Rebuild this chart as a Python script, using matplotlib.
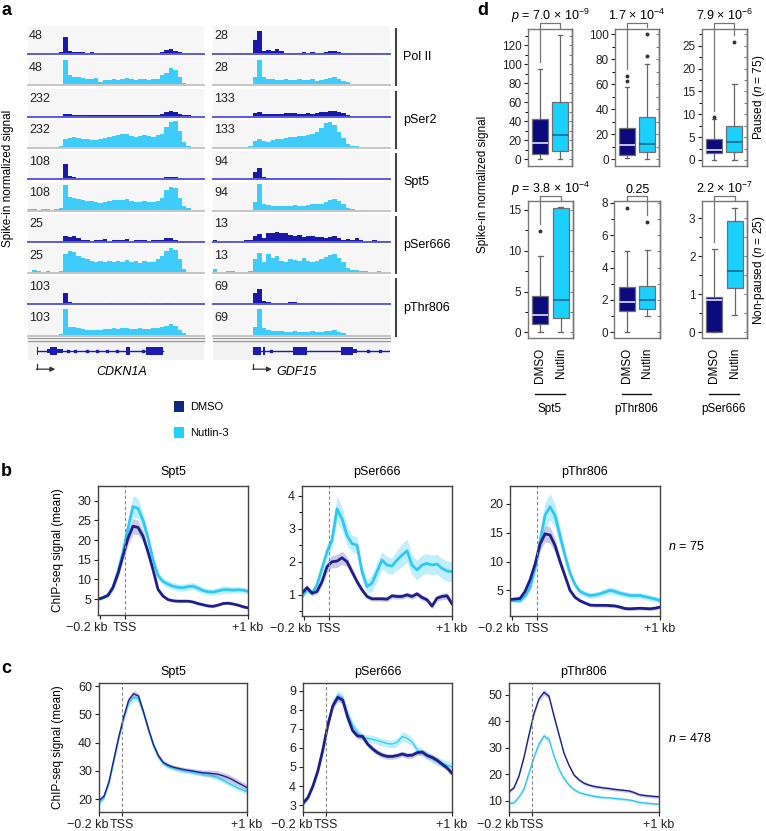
import numpy as np
import matplotlib
matplotlib.use('Agg')
import matplotlib.pyplot as plt
from matplotlib.lines import Line2D
from matplotlib.patches import Rectangle
from matplotlib.ticker import MultipleLocator

plt.rcParams['font.family'] = ['Liberation Sans', 'DejaVu Sans']
plt.rcParams['mathtext.fontset'] = 'custom'
plt.rcParams['mathtext.rm'] = 'Liberation Sans'
plt.rcParams['mathtext.it'] = 'Liberation Sans:italic'
plt.rcParams['font.size'] = 9

# -----------------------------
# Panel a: genome browser tracks (signal as % of track range, 40 bins)
# -----------------------------
track_names = ['Pol II', 'pSer2', 'Spt5', 'pSer666', 'pThr806']
cdkn1a_scale = [48, 232, 108, 25, 103]
gdf15_scale = [28, 133, 94, 13, 69]

cdkn1a_dmso = [
    [0, 0, 3, 0, 0, 0, 0, 8, 62, 9, 8, 6, 7, 4, 6, 3, 4, 3, 5, 3, 3, 4, 3, 5, 3, 3, 4, 3, 3, 5, 8, 13, 17, 12, 6, 3, 0, 3, 0, 0],
    [0, 0, 0, 0, 0, 0, 0, 3, 11, 8, 7, 6, 6, 5, 5, 5, 4, 5, 5, 6, 5, 4, 5, 6, 5, 5, 6, 5, 6, 6, 8, 15, 19, 17, 8, 5, 4, 0, 0, 0],
    [0, 0, 0, 0, 2, 0, 0, 5, 56, 12, 8, 5, 4, 4, 3, 4, 3, 4, 3, 4, 3, 3, 4, 3, 4, 3, 3, 4, 3, 3, 4, 7, 8, 8, 4, 2, 0, 0, 0, 0],
    [0, 0, 0, 0, 0, 0, 0, 3, 22, 18, 20, 15, 5, 6, 4, 8, 5, 10, 4, 6, 8, 5, 9, 4, 7, 5, 8, 4, 6, 5, 8, 12, 13, 8, 4, 2, 0, 0, 0, 0],
    [0, 0, 0, 0, 0, 0, 0, 3, 40, 8, 5, 4, 3, 3, 3, 3, 3, 3, 4, 3, 3, 3, 3, 3, 3, 3, 4, 3, 3, 3, 3, 4, 4, 3, 3, 2, 0, 0, 0, 0],
]
cdkn1a_nut = [
    [0, 4, 3, 0, 0, 0, 0, 5, 90, 35, 30, 28, 26, 24, 22, 25, 12, 18, 20, 22, 20, 24, 25, 22, 20, 22, 24, 20, 23, 22, 35, 45, 62, 55, 30, 8, 3, 2, 3, 0],
    [0, 0, 3, 0, 0, 0, 0, 5, 30, 35, 38, 36, 33, 30, 28, 27, 33, 36, 40, 42, 45, 48, 50, 42, 40, 44, 46, 42, 38, 45, 50, 75, 92, 95, 60, 20, 8, 3, 0, 0],
    [4, 5, 3, 4, 5, 3, 5, 8, 92, 48, 45, 40, 38, 35, 33, 30, 28, 30, 33, 36, 38, 36, 40, 33, 30, 32, 34, 30, 32, 35, 45, 72, 85, 80, 45, 15, 8, 3, 0, 0],
    [3, 10, 6, 3, 8, 5, 3, 8, 70, 78, 75, 60, 55, 50, 42, 38, 45, 40, 42, 38, 45, 40, 46, 38, 42, 36, 44, 40, 38, 50, 60, 80, 88, 82, 50, 15, 5, 3, 3, 0],
    [3, 3, 2, 0, 0, 0, 0, 5, 95, 32, 30, 28, 25, 22, 20, 20, 22, 24, 25, 26, 25, 27, 26, 24, 25, 26, 25, 24, 27, 26, 30, 36, 40, 35, 20, 8, 3, 0, 0, 0],
]
gdf15_dmso = [
    [0, 2, 0, 0, 3, 2, 3, 4, 5, 50, 81, 10, 15, 12, 17, 12, 5, 4, 5, 4, 6, 5, 6, 5, 4, 6, 9, 12, 6, 4, 5, 3, 4, 2, 3, 3, 2, 3, 0, 3],
    [0, 0, 0, 0, 0, 0, 0, 0, 3, 12, 15, 10, 8, 8, 9, 10, 12, 14, 12, 10, 11, 12, 10, 14, 15, 16, 20, 21, 18, 12, 6, 3, 0, 0, 0, 0, 0, 0, 0, 0],
    [0, 0, 0, 0, 0, 0, 0, 0, 3, 25, 40, 8, 5, 3, 3, 3, 3, 4, 3, 3, 3, 5, 4, 4, 6, 4, 3, 4, 3, 2, 0, 0, 0, 0, 0, 0, 0, 0, 0, 0],
    [5, 3, 0, 3, 0, 0, 0, 5, 6, 20, 28, 12, 30, 32, 34, 30, 32, 25, 22, 24, 18, 22, 20, 18, 16, 14, 18, 20, 12, 8, 10, 8, 12, 5, 4, 3, 6, 2, 3, 4],
    [0, 0, 0, 0, 0, 0, 0, 2, 3, 40, 55, 12, 8, 6, 5, 5, 6, 10, 8, 5, 4, 5, 4, 5, 4, 4, 4, 5, 3, 2, 0, 0, 0, 0, 0, 0, 0, 0, 0, 0],
]
gdf15_nut = [
    [3, 3, 0, 4, 3, 4, 5, 3, 4, 30, 91, 28, 24, 22, 20, 18, 22, 20, 18, 22, 20, 18, 22, 16, 20, 22, 25, 30, 22, 15, 10, 5, 4, 2, 3, 4, 0, 3, 0, 4],
    [0, 0, 2, 2, 3, 3, 3, 3, 5, 25, 32, 25, 20, 28, 30, 32, 34, 38, 40, 42, 44, 46, 50, 55, 70, 88, 92, 80, 55, 35, 15, 8, 6, 0, 0, 0, 0, 0, 0, 0],
    [0, 0, 0, 0, 0, 0, 0, 3, 3, 30, 94, 25, 18, 16, 17, 16, 16, 17, 18, 16, 15, 18, 22, 25, 22, 30, 38, 40, 35, 25, 10, 4, 3, 2, 3, 0, 0, 0, 0, 0],
    [14, 5, 3, 6, 8, 3, 2, 5, 8, 50, 72, 40, 68, 55, 60, 45, 40, 50, 48, 42, 55, 45, 40, 45, 50, 58, 65, 68, 55, 40, 20, 10, 12, 6, 8, 5, 3, 6, 3, 2],
    [0, 2, 0, 2, 0, 0, 2, 3, 4, 30, 94, 28, 20, 18, 16, 17, 15, 14, 16, 15, 14, 15, 16, 15, 14, 16, 18, 20, 15, 8, 4, 3, 2, 0, 0, 0, 0, 0, 0, 0],
]

# gene models, in track bins
cdkn1a_body = [2.0, 30.75]
cdkn1a_exons = [(2.0, 2.3), (5.0, 6.7), (22.3, 23.2), (26.75, 30.75)]
cdkn1a_utrs = [(4.25, 5.0), (6.7, 8.0)]
cdkn1a_marks = [9.2, 10.7, 13.5, 15.6, 17.9, 20.2, 26.1]
gdf15_body = [9.1, 40.0]
gdf15_exons = [(9.1, 10.8), (11.4, 11.65), (18.0, 21.3), (28.9, 31.7)]
gdf15_utrs = [(31.7, 32.5)]
gdf15_marks = [13.0, 35.1, 37.7]

# -----------------------------
# Panels b and c: metagene profiles
# -----------------------------
bins_b = np.linspace(-0.22, 1.0, 31)
bins_c = np.linspace(-0.18, 1.0, 31)

b_spt5_dmso = [5.0, 5.4, 6.0, 8.0, 11.5, 16.0, 20.5, 23.5, 23.2, 21.0, 17.0, 12.5, 7.5, 5.8, 4.9, 4.6, 4.5, 4.5, 4.5, 4.3, 3.9, 3.6, 3.3, 3.2, 3.5, 3.9, 4.0, 3.8, 3.5, 3.1, 2.8]
b_spt5_nut = [5.0, 5.4, 6.0, 8.0, 12.0, 17.0, 23.0, 28.5, 28.0, 25.0, 20.5, 15.0, 11.0, 9.5, 8.8, 8.3, 8.0, 7.9, 8.2, 8.3, 7.8, 7.2, 6.9, 6.8, 7.1, 7.4, 7.4, 7.3, 7.4, 7.3, 7.0]
b_spt5_dmso_se = [0.3, 0.3, 0.4, 0.7, 1.0, 1.3, 1.7, 2.0, 1.8, 1.5, 1.0, 0.5, 0.4, 0.3, 0.3, 0.3, 0.3, 0.3, 0.3, 0.3, 0.3, 0.3, 0.3, 0.3, 0.3, 0.3, 0.3, 0.3, 0.3, 0.3, 0.3]
b_spt5_nut_se = [0.3, 0.3, 0.4, 0.8, 1.2, 1.6, 2.2, 2.8, 2.5, 2.0, 1.5, 1.0, 0.9, 0.9, 0.9, 0.9, 0.9, 0.9, 0.9, 0.9, 0.9, 0.8, 0.8, 0.8, 0.9, 1.0, 0.9, 0.8, 0.8, 0.7, 0.7]

b_pser_dmso = [1.05, 1.22, 1.05, 1.1, 1.4, 1.85, 2.0, 2.02, 2.12, 2.0, 1.7, 1.4, 1.15, 0.95, 0.88, 0.88, 0.88, 0.87, 0.97, 0.95, 0.95, 1.0, 0.95, 1.03, 0.92, 0.85, 0.66, 0.9, 0.95, 0.97, 0.73]
b_pser_nut = [0.95, 1.15, 1.05, 1.3, 1.8, 2.3, 2.65, 3.6, 3.3, 2.8, 2.55, 2.5, 1.7, 1.25, 1.35, 1.7, 2.05, 1.9, 1.87, 2.05, 2.2, 2.33, 1.9, 1.75, 1.9, 1.95, 1.9, 1.93, 1.8, 1.72, 1.7]
b_pser_dmso_se = [0.07, 0.07, 0.07, 0.08, 0.12, 0.18, 0.18, 0.2, 0.2, 0.15, 0.12, 0.1, 0.08, 0.07, 0.07, 0.07, 0.07, 0.07, 0.08, 0.08, 0.08, 0.08, 0.08, 0.08, 0.08, 0.08, 0.08, 0.08, 0.1, 0.1, 0.1]
b_pser_nut_se = [0.08, 0.08, 0.08, 0.12, 0.15, 0.2, 0.25, 0.4, 0.35, 0.3, 0.25, 0.25, 0.2, 0.2, 0.25, 0.3, 0.25, 0.25, 0.25, 0.3, 0.35, 0.35, 0.3, 0.3, 0.3, 0.3, 0.3, 0.3, 0.3, 0.3, 0.3]

b_pthr_dmso = [3.4, 3.5, 3.6, 4.8, 6.8, 9.5, 13.0, 14.8, 14.6, 12.8, 10.0, 7.5, 5.0, 3.8, 3.2, 2.8, 2.45, 2.4, 2.4, 2.4, 2.35, 2.3, 2.1, 1.85, 1.8, 1.85, 1.9, 1.85, 1.8, 1.9, 2.1]
b_pthr_nut = [3.25, 3.2, 3.2, 4.0, 5.5, 8.8, 13.5, 18.0, 19.5, 18.0, 14.5, 11.0, 8.0, 6.0, 4.8, 4.4, 4.1, 4.2, 4.4, 4.7, 5.0, 4.8, 4.5, 4.3, 4.1, 4.1, 4.1, 3.9, 3.7, 3.5, 3.25]
b_pthr_dmso_se = [0.3, 0.3, 0.3, 0.4, 0.6, 0.9, 1.2, 1.4, 1.4, 1.2, 0.9, 0.6, 0.4, 0.3, 0.3, 0.3, 0.3, 0.3, 0.3, 0.3, 0.3, 0.3, 0.3, 0.3, 0.3, 0.3, 0.3, 0.3, 0.3, 0.3, 0.3]
b_pthr_nut_se = [0.3, 0.3, 0.3, 0.4, 0.6, 1.0, 1.5, 2.3, 2.3, 2.0, 1.5, 1.0, 0.7, 0.5, 0.5, 0.5, 0.5, 0.5, 0.5, 0.6, 0.6, 0.6, 0.5, 0.5, 0.5, 0.5, 0.5, 0.5, 0.5, 0.5, 0.5]

c_spt5_dmso = [19.5, 21.0, 26.0, 34.0, 42.0, 49.0, 55.0, 57.3, 56.5, 51.0, 45.0, 39.5, 35.5, 33.0, 32.0, 31.3, 30.9, 30.5, 30.2, 29.9, 29.6, 29.3, 29.2, 29.0, 28.8, 28.3, 27.7, 26.9, 25.9, 25.0, 24.0]
c_spt5_nut = [18.5, 20.5, 25.5, 33.5, 41.5, 48.5, 54.0, 56.0, 55.5, 50.5, 44.5, 39.0, 35.0, 32.6, 31.5, 31.0, 30.5, 30.1, 29.8, 29.5, 29.2, 28.9, 28.6, 28.2, 27.6, 26.8, 25.8, 25.0, 24.0, 23.3, 22.6]
c_spt5_dmso_se = [0.8, 0.8, 0.8, 0.9, 0.9, 1.0, 1.0, 1.1, 1.1, 1.0, 0.9, 0.8, 0.8, 0.8, 0.8, 0.8, 0.8, 0.8, 0.8, 0.9, 0.9, 1.0, 1.1, 1.2, 1.2, 1.2, 1.2, 1.2, 1.2, 1.2, 1.2]
c_spt5_nut_se = [0.8, 0.8, 0.8, 0.9, 1.0, 1.1, 1.2, 1.3, 1.3, 1.1, 1.0, 0.9, 0.8, 0.8, 0.8, 0.8, 0.8, 0.8, 0.8, 0.9, 0.9, 0.9, 0.9, 0.9, 0.9, 0.9, 0.9, 0.9, 0.9, 0.9, 0.9]

c_pser_dmso = [3.1, 3.4, 4.0, 4.8, 5.9, 7.2, 8.2, 8.65, 8.5, 7.6, 6.9, 6.62, 6.6, 6.2, 5.95, 5.75, 5.62, 5.55, 5.55, 5.6, 5.68, 5.6, 5.62, 5.75, 5.78, 5.6, 5.5, 5.35, 5.15, 4.95, 4.67]
c_pser_nut = [3.1, 3.4, 4.0, 4.8, 5.9, 7.2, 8.3, 8.75, 8.6, 7.8, 7.2, 6.8, 6.55, 6.5, 6.45, 6.38, 6.3, 6.22, 6.2, 6.3, 6.6, 6.5, 6.3, 5.9, 5.75, 5.6, 5.45, 5.3, 5.2, 5.1, 5.0]
c_pser_dmso_se = [0.12, 0.12, 0.12, 0.13, 0.15, 0.18, 0.2, 0.22, 0.2, 0.18, 0.16, 0.16, 0.15, 0.15, 0.15, 0.15, 0.15, 0.15, 0.15, 0.15, 0.15, 0.15, 0.15, 0.15, 0.15, 0.15, 0.15, 0.15, 0.15, 0.15, 0.15]
c_pser_nut_se = [0.12, 0.12, 0.12, 0.13, 0.15, 0.2, 0.25, 0.28, 0.25, 0.22, 0.2, 0.2, 0.2, 0.2, 0.2, 0.2, 0.2, 0.2, 0.2, 0.22, 0.25, 0.25, 0.22, 0.22, 0.22, 0.22, 0.22, 0.22, 0.22, 0.22, 0.22]

c_pthr_dmso = [13.5, 15.0, 19.5, 26.5, 35.0, 43.0, 48.5, 51.0, 49.5, 42.0, 35.0, 28.0, 23.5, 19.8, 18.0, 16.7, 16.0, 15.5, 15.2, 14.9, 14.7, 14.4, 14.2, 14.0, 13.8, 13.2, 12.4, 12.1, 11.9, 11.7, 11.6]
c_pthr_nut = [9.1, 9.3, 11.5, 14.5, 20.5, 26.5, 31.5, 34.5, 33.2, 27.0, 22.0, 18.5, 16.0, 14.3, 13.2, 12.6, 12.2, 11.8, 11.5, 11.3, 11.2, 11.0, 10.8, 10.6, 10.4, 10.0, 9.5, 9.3, 9.1, 8.9, 8.8]
c_pthr_dmso_se = [0.6, 0.6, 0.6, 0.7, 0.8, 0.9, 1.0, 1.1, 1.0, 0.9, 0.8, 0.7, 0.6, 0.6, 0.6, 0.6, 0.6, 0.6, 0.6, 0.6, 0.6, 0.6, 0.6, 0.6, 0.6, 0.6, 0.6, 0.6, 0.6, 0.6, 0.6]
c_pthr_nut_se = [0.5, 0.5, 0.5, 0.6, 0.7, 0.8, 0.9, 1.0, 1.0, 0.8, 0.7, 0.6, 0.5, 0.5, 0.5, 0.5, 0.5, 0.5, 0.5, 0.5, 0.5, 0.5, 0.5, 0.5, 0.5, 0.5, 0.5, 0.5, 0.5, 0.5, 0.5]

profile_titles = ['Spt5', 'pSer666', 'pThr806']

# -----------------------------
# Panel d: box plot summaries [whislo, q1, median, q3, whishi] and outliers
# -----------------------------
d_groups = ['Spt5', 'pThr806', 'pSer666']
paused_dmso = [[0.0, 5.3, 17.5, 42.5, 95.0], [1.1, 3.4, 11.4, 25.3, 57.6], [0.1, 1.46, 2.2, 4.5, 8.9]]
paused_nut = [[0.0, 9.0, 25.7, 60.0, 131.0], [0.0, 5.6, 12.5, 33.6, 76.0], [0.0, 1.7, 3.9, 7.5, 16.6]]
paused_dmso_out = [[], [62.6, 66.6], [9.3]]
paused_nut_out = [[], [82.9, 100.0], [25.8]]
nonpaused_dmso = [[0.0, 1.0, 2.1, 4.4, 9.35], [0.0, 1.32, 1.89, 2.78, 5.03], [0.0, 0.0, 0.85, 0.94, 2.2]]
nonpaused_nut = [[0.0, 1.8, 3.9, 15.3, 15.4], [1.0, 1.44, 2.0, 2.86, 5.09], [0.46, 1.16, 1.62, 2.94, 3.27]]
nonpaused_dmso_out = [[12.45], [7.67], []]
nonpaused_nut_out = [[], [6.8], []]
paused_p = [r'$p$ = 7.0 × 10$^{-9}$', r'1.7 × 10$^{-4}$', r'7.9 × 10$^{-6}$']
nonpaused_p = [r'$p$ = 3.8 × 10$^{-4}$', '0.25', r'2.2 × 10$^{-7}$']

# colours
DMSO_LINE = '#1f1f8c'
NUT_LINE = '#2ec8f6'
DMSO_TRACK = '#1a1aa6'
NUT_TRACK = '#40ccfa'
DMSO_BOX = '#0b0b7e'
NUT_BOX = '#1ad0fd'
GENE = '#1c1cb0'

W, H = 766, 831
fig = plt.figure(figsize=(W / 100, H / 100), dpi=100)


def px_axes(x0, y0, x1, y1):
    return fig.add_axes([x0 / W, 1 - y1 / H, (x1 - x0) / W, (y1 - y0) / H])


def px_text(x, y, s, **kw):
    return fig.text(x / W, 1 - y / H, s, **kw)


def px_line(xs, ys, **kw):
    fig.add_artist(Line2D([x / W for x in xs], [1 - y / H for y in ys], **kw))


# -----------------------------
# Panel a
# -----------------------------
columns = [(28, 204, cdkn1a_scale, cdkn1a_dmso, cdkn1a_nut),
           (213, 390, gdf15_scale, gdf15_dmso, gdf15_nut)]
for x0, x1, scales, dm, nu in columns:
    for p in range(5):
        for c, (vals, fill, base) in enumerate([(dm[p], DMSO_TRACK, '#5a5ae8'),
                                                 (nu[p], NUT_TRACK, '#c6c6c6')]):
            k = 2 * p + c
            yb = 54 + 31.3 * k
            ax = px_axes(x0, yb - 28, x1, yb)
            ax.set_facecolor('#f6f6f6')
            v = np.asarray(vals, dtype=float) * scales[p] / 100
            ax.stairs(v, np.arange(len(v) + 1), fill=True, color=fill, lw=0)
            ax.set_xlim(0, len(v))
            ax.set_ylim(0, scales[p])
            ax.axhline(0, color=base, lw=1.4, clip_on=False)
            ax.text(0.005, 0.84, str(scales[p]), transform=ax.transAxes,
                    va='top', ha='left', fontsize=9, color='#222')
            ax.set_xticks([])
            ax.set_yticks([])
            for s in ax.spines.values():
                s.set_visible(False)

for p, name in enumerate(track_names):
    ytop = 54 + 31.3 * 2 * p - 25
    ybot = 54 + 31.3 * (2 * p + 1)
    px_line([396, 396], [ytop, ybot], color='#444', lw=1.5)
    px_text(403, (ytop + ybot) / 2, name, va='center', ha='left', fontsize=9)

# gene models
genes = [(28, 204, cdkn1a_body, cdkn1a_exons, cdkn1a_utrs, cdkn1a_marks, 'CDKN1A', 122),
         (213, 390, gdf15_body, gdf15_exons, gdf15_utrs, gdf15_marks, 'GDF15', 297)]
for x0, x1, body, exons, utrs, marks, gname, gx in genes:
    for yy in (338.3, 341.3):
        px_line([x0, x1], [yy, yy], color='#9a9a9a', lw=1.0)
    ax = px_axes(x0, 342.5, x1, 360)
    ax.set_facecolor('#f3f3f3')
    ax.set_xlim(0, 40)
    ax.set_ylim(-1, 1)
    ax.plot(body, [0, 0], color=GENE, lw=1)
    for a, b in exons:
        ax.add_patch(Rectangle((a, -0.45), b - a, 0.9, color=GENE, lw=0))
    for a, b in utrs:
        ax.add_patch(Rectangle((a, -0.25), b - a, 0.5, color=GENE, lw=0))
    ax.plot(marks, [0] * len(marks), 's', ms=1.8, color=GENE)
    tss = body[0]
    ax.plot([tss, tss], [-1.45, -2.05], color='#333', lw=0.9, clip_on=False)
    ax.annotate('', xy=(tss + 4.2, -2.05), xytext=(tss - 0.1, -2.05),
                arrowprops=dict(arrowstyle='-|>', color='#333', lw=0.9, mutation_scale=7,
                                shrinkA=0, shrinkB=0), annotation_clip=False)
    ax.set_xticks([])
    ax.set_yticks([])
    for s in ax.spines.values():
        s.set_visible(False)
    px_text(gx, 372, gname, ha='center', va='center', fontsize=9, style='italic')

px_text(8, 178, 'Spike-in normalized signal', rotation=90, ha='center', va='center', fontsize=8.5)

# legend
for y0, col, lab in [(401, '#0f2a7c', 'DMSO'), (427, '#1dd2ff', 'Nutlin-3')]:
    fig.add_artist(Rectangle((174 / W, 1 - (y0 + 11) / H), 10 / W, 11 / H,
                             color=col, transform=fig.transFigure, lw=0))
    px_text(190, y0 + 5.5, lab, va='center', ha='left', fontsize=8)

# -----------------------------
# Panels b and c
# -----------------------------
b_boxes = [(98, 486, 248, 615), (302, 486, 452, 616), (510, 486, 660, 616)]
c_boxes = [(99, 683, 247, 812), (303, 683, 452, 812), (509, 683, 659, 812)]
b_sets = [(b_spt5_dmso, b_spt5_dmso_se, b_spt5_nut, b_spt5_nut_se),
          (b_pser_dmso, b_pser_dmso_se, b_pser_nut, b_pser_nut_se),
          (b_pthr_dmso, b_pthr_dmso_se, b_pthr_nut, b_pthr_nut_se)]
c_sets = [(c_spt5_dmso, c_spt5_dmso_se, c_spt5_nut, c_spt5_nut_se),
          (c_pser_dmso, c_pser_dmso_se, c_pser_nut, c_pser_nut_se),
          (c_pthr_dmso, c_pthr_dmso_se, c_pthr_nut, c_pthr_nut_se)]
b_ylims = [(1.0, 33.7), (0.36, 4.29), (0.55, 23.1)]
b_yticks = [[5, 10, 15, 20, 25, 30], [1, 2, 3, 4], [5, 10, 15, 20]]
b_minor = [None, 0.5, None]
c_ylims = [(15.4, 61.1), (2.64, 9.4), (5.85, 54.5)]
c_yticks = [[20, 30, 40, 50, 60], [3, 4, 5, 6, 7, 8, 9], [10, 20, 30, 40, 50]]
b_lw = [(2.0, 2.0)] * 3
c_lw = [(1.0, 1.0), (2.0, 0.9), (1.0, 1.0)]


def profile_panel(box, bins, series, ylim, yticks, minor, lws, left_tick, left_shift):
    ax = px_axes(*box)
    dm, dm_se, nu, nu_se = [np.asarray(s, dtype=float) for s in series]
    ax.fill_between(bins, nu - nu_se, nu + nu_se, color=NUT_LINE, alpha=0.3, lw=0)
    ax.fill_between(bins, dm - dm_se, dm + dm_se, color='#5050a8', alpha=0.3, lw=0)
    ax.plot(bins, nu, color=NUT_LINE, lw=lws[1])
    ax.plot(bins, dm, color=DMSO_LINE, lw=lws[0])
    ax.axvline(0, color='#888', ls=(0, (3, 2)), lw=0.8)
    ax.set_xlim(bins[0], 1.0)
    ax.set_ylim(*ylim)
    ax.set_yticks(yticks)
    if minor:
        ax.yaxis.set_minor_locator(MultipleLocator(minor))
    ax.set_xticks([left_tick, 0, 1.0])
    ax.set_xticklabels(['', 'TSS', '+1 kb'])
    # the "-0.2 kb" label sits left of its tick so it clears "TSS"
    ax.annotate('\u22120.2 kb', xy=(left_tick, 0), xycoords=ax.get_xaxis_transform(),
                xytext=(left_shift * 0.72, -5), textcoords='offset points',
                ha='center', va='top', fontsize=9, color='#222')
    ax.tick_params(which='major', length=3, width=0.8, labelsize=9, pad=2, colors='#222')
    ax.tick_params(which='minor', length=2, width=0.7)
    for s in ax.spines.values():
        s.set_color('#444')
        s.set_linewidth(1.0)
    return ax


for i in range(3):
    profile_panel(b_boxes[i], bins_b, b_sets[i], b_ylims[i], b_yticks[i], b_minor[i],
                  b_lw[i], -0.2, -14)
    px_text((b_boxes[i][0] + b_boxes[i][2]) / 2, 472, profile_titles[i], ha='center', va='center', fontsize=9)
    profile_panel(c_boxes[i], bins_c, c_sets[i], c_ylims[i], c_yticks[i], None,
                  c_lw[i], -0.18, -11)
    px_text((c_boxes[i][0] + c_boxes[i][2]) / 2, 672, profile_titles[i], ha='center', va='center', fontsize=9)

px_text(58, 550, 'ChIP-seq signal (mean)', rotation=90, ha='center', va='center', fontsize=8.5)
px_text(58, 747, 'ChIP-seq signal (mean)', rotation=90, ha='center', va='center', fontsize=8.5)
px_text(668, 547, r'$n$ = 75', ha='left', va='center', fontsize=9)
px_text(668, 738, r'$n$ = 478', ha='left', va='center', fontsize=9)

# -----------------------------
# Panel d
# -----------------------------
d_top = [(527.7, 29.3, 572.3, 165.7), (615, 29.3, 659.3, 165.7), (701.7, 29.3, 746.7, 165.7)]
d_bot = [(527.7, 201, 573.3, 338.3), (614.3, 201, 660, 338.3), (701.7, 201, 747.3, 338.3)]
top_ylims = [(-6.7, 137), (-5.1, 104), (-1.25, 28.6)]
top_ticks = [[0, 20, 40, 60, 80, 100, 120], [0, 20, 40, 60, 80, 100], [0, 5, 10, 15, 20, 25]]
top_minor = [10, 10, 2.5]
bot_ylims = [(-0.74, 16.1), (-0.37, 8.12), (-0.16, 3.46)]
bot_ticks = [[0, 5, 10, 15], [0, 2, 4, 6, 8], [0, 1, 2, 3]]
bot_minor = [2.5, 1, 0.5]


def box_panel(box, dm, dm_out, nu, nu_out, ylim, ticks, minor, ptext, bracket_px, ptext_px):
    ax = px_axes(*box)
    stats = []
    for q, fl in ((dm, dm_out), (nu, nu_out)):
        stats.append(dict(whislo=q[0], q1=q[1], med=q[2], q3=q[3], whishi=q[4], fliers=fl))
    art = ax.bxp(stats, positions=[1, 2], widths=0.78, capwidths=0.22, patch_artist=True,
                 boxprops=dict(edgecolor='#707070', lw=0.9),
                 whiskerprops=dict(color='#666', lw=0.9),
                 capprops=dict(color='#666', lw=0.9),
                 flierprops=dict(marker='o', ms=1.8, mfc='#333', mec='#333'))
    art['boxes'][0].set_facecolor(DMSO_BOX)
    art['boxes'][1].set_facecolor(NUT_BOX)
    art['medians'][0].set(color='#c4c4ee', lw=1.4)
    art['medians'][1].set(color='#17688a', lw=1.2)
    ax.set_xlim(0.385, 2.615)
    ax.set_ylim(*ylim)
    ax.set_yticks(ticks)
    ax.yaxis.set_minor_locator(MultipleLocator(minor))
    ax.tick_params(axis='y', which='major', length=3, width=0.8, labelsize=8.5, pad=1.5, colors='#222')
    ax.tick_params(axis='y', which='minor', length=2, width=0.7)
    sec = ax.secondary_yaxis('right')
    sec.set_yticks(ticks)
    sec.yaxis.set_minor_locator(MultipleLocator(minor))
    sec.tick_params(which='both', direction='in', labelright=False, length=2, width=0.7, colors='#777')
    for s in list(ax.spines.values()) + list(sec.spines.values()):
        s.set_color('#777')
        s.set_linewidth(1.0)
    # significance bracket
    h = box[3] - box[1]
    ytop = (box[3] - bracket_px) / h
    rng = ylim[1] - ylim[0]
    tr = ax.get_xaxis_transform()
    legs = []
    for q, fl in ((dm, dm_out), (nu, nu_out)):
        top_val = max([q[4]] + list(fl)) + 0.05 * rng
        legs.append(min((top_val - ylim[0]) / rng, ytop))
    ax.plot([1, 1, 2, 2], [legs[0], ytop, ytop, legs[1]], color='#777', lw=0.9,
            transform=tr, clip_on=False)
    ax.text(1.5, (box[3] - ptext_px) / h, ptext, transform=tr, ha='center', va='baseline', fontsize=9)
    return ax


for i in range(3):
    ax = box_panel(d_top[i], paused_dmso[i], paused_dmso_out[i], paused_nut[i], paused_nut_out[i],
                   top_ylims[i], top_ticks[i], top_minor[i], paused_p[i], 23.3, 20.5)
    ax.set_xticks([])
    ax = box_panel(d_bot[i], nonpaused_dmso[i], nonpaused_dmso_out[i], nonpaused_nut[i], nonpaused_nut_out[i],
                   bot_ylims[i], bot_ticks[i], bot_minor[i], nonpaused_p[i], 195.7, 193)
    ax.set_xticks([1, 2])
    ax.set_xticklabels(['DMSO', 'Nutlin'], rotation=90, fontsize=8.5)
    ax.tick_params(axis='x', length=0, pad=7)
    h = d_bot[i][3] - d_bot[i][1]
    tr = ax.get_xaxis_transform()
    ax.plot([0.75, 2.2], [(d_bot[i][3] - 394) / h] * 2, color='#111', lw=1.0, transform=tr, clip_on=False)
    ax.text(1.475, (d_bot[i][3] - 409) / h, d_groups[i], transform=tr, ha='center', va='center', fontsize=8.5)

px_text(483, 184, 'Spike-in normalized signal', rotation=90, ha='center', va='center', fontsize=8.5)
px_text(759, 97, r'Paused ($n$ = 75)', rotation=90, ha='center', va='center', fontsize=8.5)
px_text(759, 270, r'Non-paused ($n$ = 25)', rotation=90, ha='center', va='center', fontsize=8.5)

# panel letters
for x, y, s in [(1, 15, 'a'), (1, 476.5, 'b'), (1, 673, 'c'), (477, 15, 'd')]:
    px_text(x, y, s, fontsize=13, fontweight='bold', va='baseline', ha='left')

fig.savefig('out.png', dpi=100)
